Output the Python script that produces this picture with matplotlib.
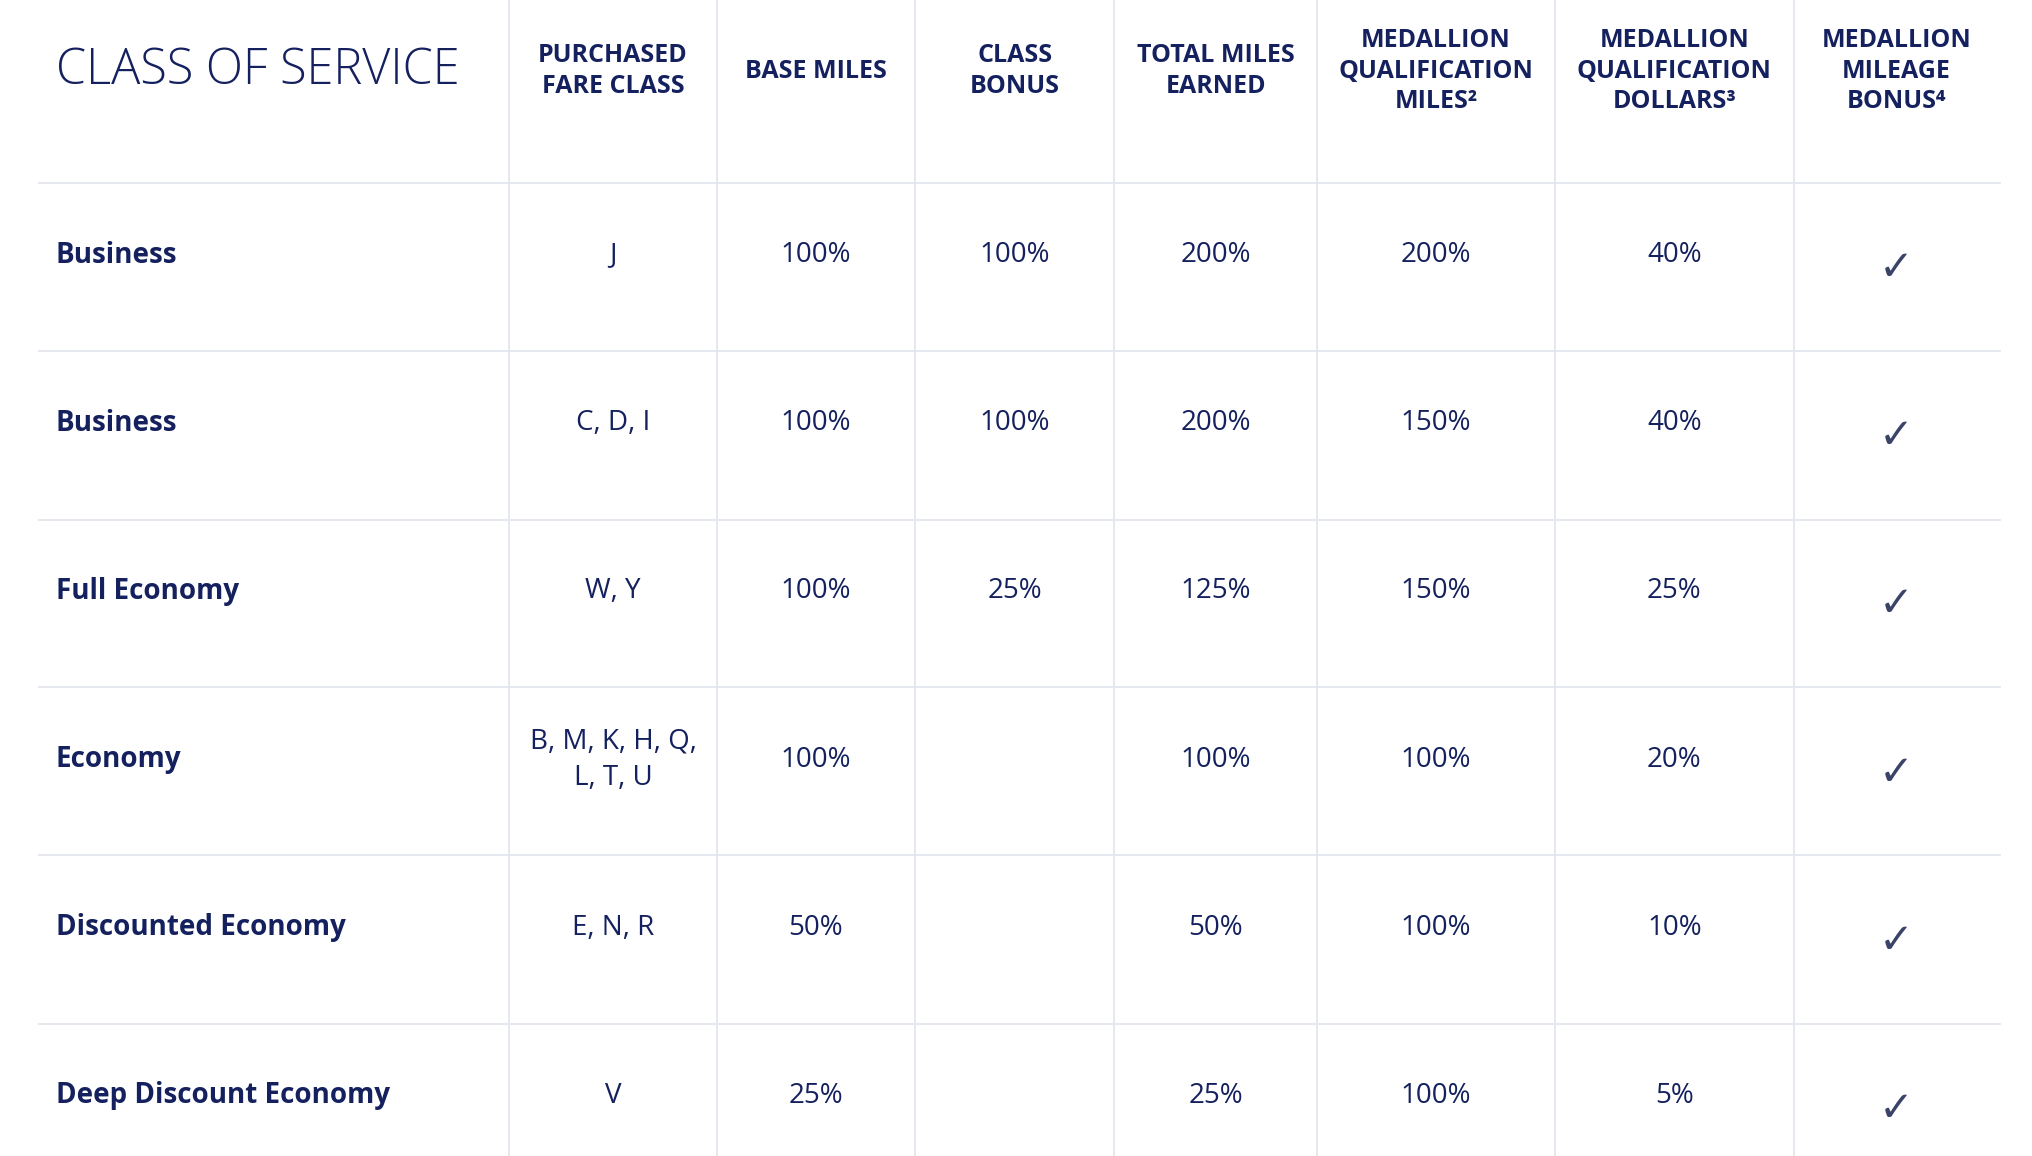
import matplotlib
matplotlib.use("Agg")
import matplotlib.pyplot as plt

classes = ["Business", "Business", "Full Economy", "Economy", "Discounted Economy", "Deep Discount Economy"]
fare_class = ["J", "C, D, I", "W, Y", "B, M, K, H, Q,\nL, T, U", "E, N, R", "V"]
base_miles = ["100%", "100%", "100%", "100%", "50%", "25%"]
class_bonus = ["100%", "100%", "25%", "", "", ""]
total_miles = ["200%", "200%", "125%", "100%", "50%", "25%"]
mqm = ["200%", "150%", "150%", "100%", "100%", "100%"]
mqd = ["40%", "40%", "25%", "20%", "10%", "5%"]
bonus = [True] * 6
headers = ["PURCHASED\nFARE CLASS", "BASE MILES", "CLASS\nBONUS", "TOTAL MILES\nEARNED",
           "MEDALLION\nQUALIFICATION\nMILES²", "MEDALLION\nQUALIFICATION\nDOLLARS³", "MEDALLION\nMILEAGE\nBONUS⁴"]

W, H = 1568, 892
navy = "#14215e"
grid = "#e3e6ee"
fig = plt.figure(figsize=(20.32, 11.56), dpi=100)
ax = fig.add_axes([0, 0, 1, 1])
ax.set_xlim(0, W); ax.set_ylim(H, 0); ax.axis("off")

vlines = [393, 553, 706, 860, 1016, 1200, 1384]
hlines = [141, 271, 401, 530, 660, 790]
for x in vlines:
    ax.plot([x, x], [0, H], color=grid, lw=1.3)
for y in hlines:
    ax.plot([30, 1543], [y, y], color=grid, lw=1.3)

centers = [(vlines[i] + (vlines[i + 1] if i + 1 < len(vlines) else 1543)) / 2 for i in range(len(vlines))]
fam = "Open Sans"
ax.text(43, 55, "CLASS OF SERVICE", fontsize=35, fontweight="light", color=navy, family=fam, va="center")
for cx, h in zip(centers, headers):
    ax.text(cx, 55, h, fontsize=18, fontweight="bold", color=navy, family=fam,
            ha="center", va="center", linespacing=1.3)

cols = [fare_class, base_miles, class_bonus, total_miles, mqm, mqd]
for r in range(6):
    cy = 197 + r * 129.7
    ax.text(43, cy, classes[r], fontsize=20, fontweight="bold", color=navy, family=fam, va="center")
    for cx, col in zip(centers, cols):
        ax.text(cx, cy, col[r], fontsize=20, color=navy, family=fam, ha="center", va="center",
                linespacing=1.4)
    if bonus[r]:
        ax.text(centers[6], cy + 10, "✓", fontsize=30, color="#3a4468", family="DejaVu Sans",
                ha="center", va="center")

fig.savefig("out.png", dpi=100, facecolor="white")
